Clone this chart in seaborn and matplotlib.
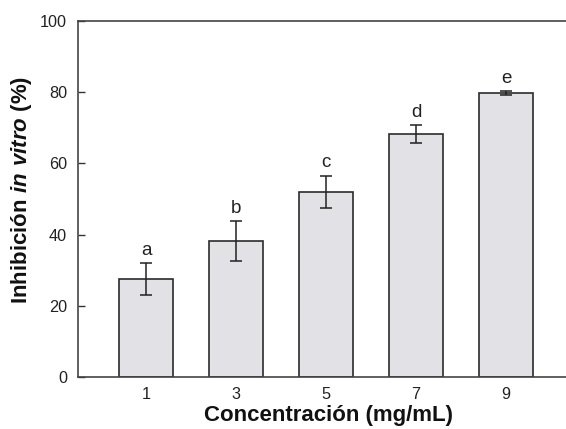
import matplotlib
matplotlib.use("Agg")
import matplotlib.pyplot as plt
import pandas as pd
import seaborn as sns

# data
concentrations = ["1", "3", "5", "7", "9"]
inhibition = [27.5, 38.2, 52.1, 68.3, 79.7]
std_err = [4.4, 5.6, 4.5, 2.5, 0.6]
letters = ["a", "b", "c", "d", "e"]

sns.set_style("ticks")
plt.rcParams['font.family'] = ['Liberation Sans', 'DejaVu Sans']
plt.rcParams['mathtext.fontset'] = 'custom'
plt.rcParams['mathtext.bfit'] = 'Liberation Sans:italic:bold'
plt.rcParams['mathtext.rm'] = 'Liberation Sans:bold'

df = pd.DataFrame({'conc': concentrations, 'inh': inhibition, 'err': std_err})

fig = plt.figure(figsize=(5.66, 4.29), dpi=100)
ax = fig.add_axes([78 / 566, 52 / 429, 491 / 566, 356 / 429])

sns.barplot(data=df, x='conc', y='inh', color='#e2e1e5', edgecolor='#2b2b2b',
            linewidth=1.2, width=0.6, errorbar=None, saturation=1, ax=ax)
xs = list(range(len(concentrations)))
ax.errorbar(xs, df['inh'], yerr=df['err'], fmt='none', ecolor='#222222',
            elinewidth=1.1, capsize=4.5, capthick=1.1)
for x, v, e, lab in zip(xs, inhibition, std_err, letters):
    ax.text(x, v + e + 1.2, lab, ha='center', va='bottom', fontsize=13.5, color='#222222')

ax.set_xlim(-0.756, 4.7)
ax.set_ylim(0, 100)
ax.set_yticks([0, 20, 40, 60, 80, 100])
ax.tick_params(axis='y', direction='in', length=5, width=1, labelsize=11.7, pad=8,
               color='#333333', labelcolor='#222222')
ax.tick_params(axis='x', length=0, labelsize=11.7, pad=7, labelcolor='#222222')
for s in ax.spines.values():
    s.set_color('#444444')
    s.set_linewidth(1.2)

ax.set_xlabel('Concentración (mg/mL)', fontsize=16, fontweight='bold', color='#111111')
ax.set_ylabel('Inhibición $\\mathbfit{in\\ vitro}$ (%)', fontsize=16, fontweight='bold',
              color='#111111')
ax.xaxis.set_label_coords(0.511, -0.08)
ax.yaxis.set_label_coords(-0.089, 0.525)

fig.savefig('out.png', dpi=100)
